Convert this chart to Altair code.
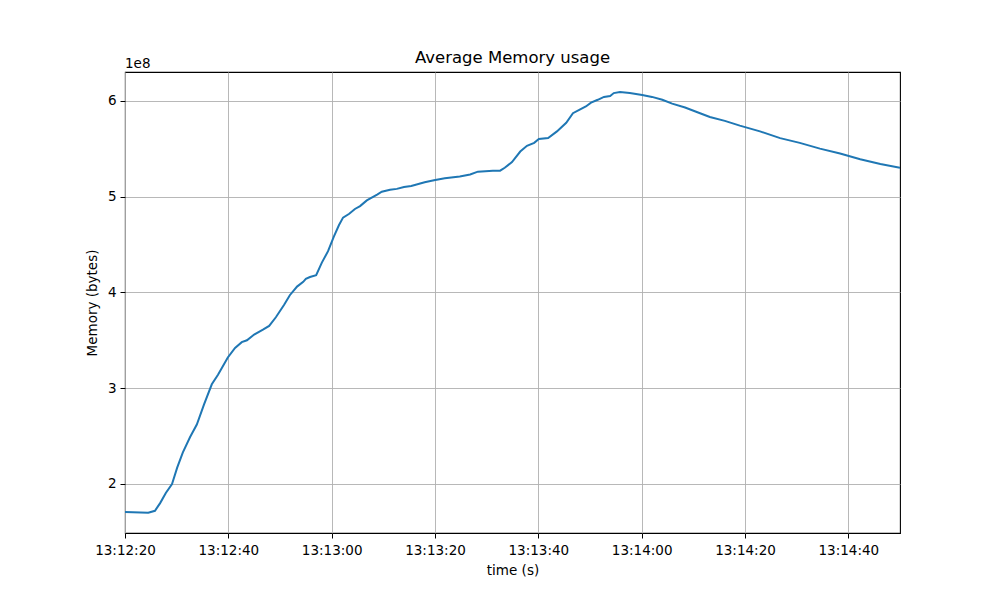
import altair as alt
import pandas as pd

# seconds after 13:12:20
seconds = [0, 4.5, 5.8, 6.8, 7.9, 9.1, 10.1, 11.2, 12.6, 13.9, 15.3, 16.8, 18.0, 19.9,
           21.3, 22.6, 23.6, 25.0, 26.7, 27.9, 29.2, 30.8, 31.9, 33.3, 34.5, 35.0, 35.8,
           37.0, 38.1, 39.3, 40.4, 41.4, 42.2, 43.4, 44.5, 45.5, 46.8, 48.8, 49.7, 51.3,
           52.6, 54.0, 55.4, 58.0, 59.8, 61.9, 64.8, 66.8, 68.3, 71.2, 72.6, 73.5, 74.9,
           76.5, 77.8, 79.2, 80.1, 81.9, 83.6, 85.4, 86.7, 88.1, 89.2, 90.2, 91.5, 92.7,
           93.9, 94.6, 95.8, 97.7, 100.1, 102.0, 104.0, 105.9, 108.4, 111.3, 113.2, 116.1,
           119.0, 122.9, 126.8, 130.6, 134.5, 138.4, 142.3, 146.2, 150.0]
memory_e8 = [1.708, 1.70, 1.72, 1.80, 1.905, 2.0, 2.17, 2.33, 2.49, 2.62, 2.83, 3.04, 3.14, 3.32,
             3.42, 3.48, 3.50, 3.56, 3.61, 3.65, 3.74, 3.87, 3.97, 4.06, 4.11, 4.14, 4.16,
             4.18, 4.31, 4.43, 4.58, 4.70, 4.78, 4.82, 4.87, 4.90, 4.96, 5.02, 5.05, 5.07,
             5.08, 5.10, 5.11, 5.15, 5.17, 5.19, 5.21, 5.23, 5.26, 5.27, 5.27, 5.30, 5.36,
             5.47, 5.53, 5.56, 5.60, 5.61, 5.68, 5.77, 5.87, 5.91, 5.94, 5.98, 6.01, 6.04,
             6.05, 6.08, 6.09, 6.08, 6.06, 6.04, 6.01, 5.97, 5.93, 5.87, 5.83, 5.79,
             5.74, 5.68, 5.61, 5.56, 5.50, 5.45, 5.39, 5.34, 5.30]
y_ticks = [2e8, 3e8, 4e8, 5e8, 6e8]
x_tick_seconds = [0, 20, 40, 60, 80, 100, 120, 140]

# time axis in seconds after 13:12:20 (label formatted as clock time)
df = pd.DataFrame({"t": seconds, "memory": [v * 1e8 for v in memory_e8]})

FONT = "DejaVu Sans"
label_expr = ("timeFormat(datetime(2024, 0, 1, 13, 12, 20 + datum.value), '%H:%M:%S')")

line = alt.Chart(df).mark_line(color="#1f77b4", strokeWidth=2, clip=True).encode(
    x=alt.X("t:Q", scale=alt.Scale(domain=[0, 150], nice=False, zero=False),
            axis=alt.Axis(title="time (s)", values=x_tick_seconds, labelExpr=label_expr,
                          labelAngle=0, labelFontSize=13.5, titleFontSize=13.5,
                          labelColor="black", titleColor="black", titleFontWeight="normal",
                          tickColor="black", tickSize=5, labelPadding=5, titlePadding=7,
                          gridColor="#b0b0b0", gridWidth=0.9, domain=False,
                          labelFlush=False, labelOverlap=False)),
    y=alt.Y("memory:Q", scale=alt.Scale(domain=[1.488e8, 6.30e8], nice=False, zero=False),
            axis=alt.Axis(title="Memory (bytes)", values=y_ticks,
                          labelExpr="format(datum.value / 1e8, 'd')",
                          labelFontSize=13.5, titleFontSize=13.5,
                          labelColor="black", titleColor="black", titleFontWeight="normal",
                          tickColor="black", tickSize=5, labelPadding=4, titlePadding=8,
                          gridColor="#b0b0b0", gridWidth=0.9, domain=False)),
)

offset_text = alt.Chart(pd.DataFrame({"label": ["1e8"]})).mark_text(
    align="left", baseline="alphabetic", fontSize=13.5, font=FONT, color="black"
).encode(x=alt.value(0), y=alt.value(-4), text="label:N")

chart = alt.layer(line, offset_text).properties(
    width=775, height=461,
    title=alt.Title("Average Memory usage", fontSize=16.5, fontWeight="normal",
                    font=FONT, color="black", offset=-9),
    autosize=alt.AutoSizeParams(type="none"),
    padding={"left": 117, "top": 64, "right": 84, "bottom": 51},
).configure(font=FONT).configure_view(stroke="black", strokeWidth=1.1)

chart.save("out.html", embed_options={"renderer": "svg", "actions": False})
